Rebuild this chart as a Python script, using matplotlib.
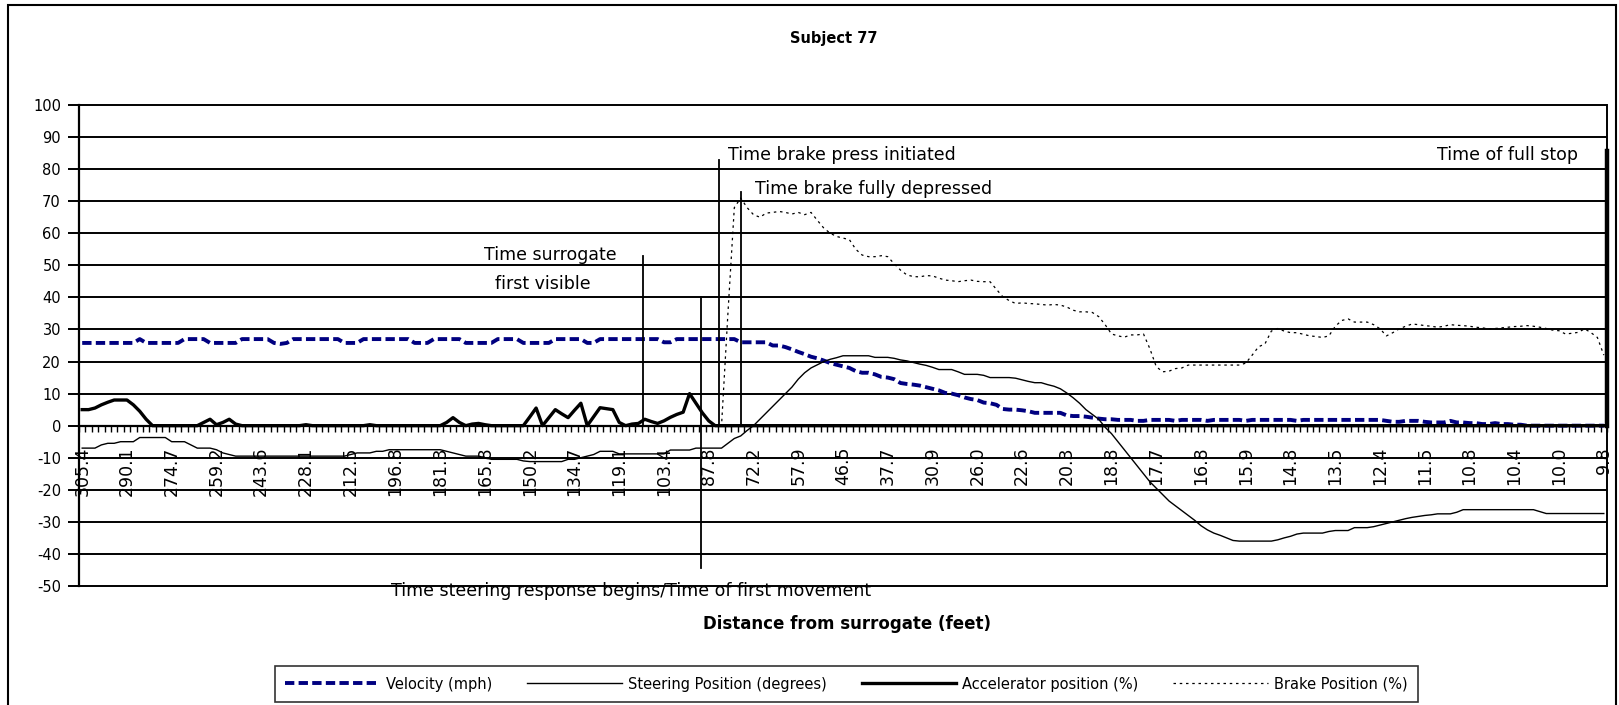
import matplotlib
matplotlib.use("Agg")
import matplotlib.pyplot as plt
import numpy as np
from matplotlib.patches import Rectangle
from matplotlib.ticker import FixedLocator, NullFormatter

plt.rcParams["font.family"] = ["DejaVu Sans"]

# ---------------- data ----------------
velocity = [
    25.8, 25.8, 25.8, 25.8, 25.8, 25.8, 25.8, 25.8, 25.8, 27.0,
    25.8, 25.8, 25.8, 25.8, 25.8, 25.8, 27.0, 27.0, 27.0, 27.0,
    25.8, 25.8, 25.8, 25.8, 25.8, 27.0, 27.0, 27.0, 27.0, 27.0,
    25.8, 25.5, 25.8, 27.0, 27.0, 27.0, 27.0, 27.0, 27.0, 27.0,
    27.0, 25.8, 25.8, 25.8, 27.0, 27.0, 27.0, 27.0, 27.0, 27.0,
    27.0, 27.0, 25.8, 25.8, 25.8, 27.0, 27.0, 27.0, 27.0, 27.0,
    25.8, 25.8, 25.8, 25.8, 25.8, 27.0, 27.0, 27.0, 27.0, 25.8,
    25.8, 25.8, 25.8, 25.8, 27.0, 27.0, 27.0, 27.0, 27.0, 25.8,
    25.8, 27.0, 27.0, 27.0, 27.0, 27.0, 27.0, 27.0, 27.0, 27.0,
    27.0, 26.0, 26.0, 27.0, 27.0, 27.0, 27.0, 27.0, 27.0, 27.0,
    27.0, 27.0, 27.0, 26.0, 26.0, 26.0, 26.0, 26.0, 25.0, 25.0,
    24.5, 23.8, 23.0, 22.3, 21.5, 21.0, 20.3, 19.5, 19.0, 18.5,
    18.0, 17.0, 16.5, 16.5, 16.0, 15.2, 15.0, 14.5, 13.3, 13.0,
    12.8, 12.5, 12.0, 11.5, 11.0, 10.2, 10.0, 9.5, 8.8, 8.3,
    8.0, 7.2, 7.0, 6.5, 5.2, 5.0, 5.0, 4.8, 4.5, 4.0,
    4.0, 4.0, 4.0, 4.0, 3.2, 3.0, 3.0, 2.8, 2.5, 2.2,
    2.0, 2.0, 1.8, 1.8, 1.8, 1.5, 1.5, 1.8, 1.8, 1.8,
    1.8, 1.5, 1.8, 1.8, 1.8, 1.8, 1.5, 1.8, 1.8, 1.8,
    1.8, 1.8, 1.5, 1.8, 1.8, 1.8, 1.8, 1.8, 1.8, 1.8,
    1.5, 1.8, 1.8, 1.8, 1.8, 1.8, 1.8, 1.8, 1.8, 1.8,
    1.8, 1.8, 1.8, 1.8, 1.5, 1.2, 1.2, 1.5, 1.5, 1.5,
    1.2, 1.0, 1.0, 1.0, 1.5, 1.0, 1.0, 0.8, 0.8, 0.5,
    0.5, 0.8, 0.5, 0.5, 0.3, 0.3, 0.0, 0.0, 0.0, 0.0,
    0.0, 0.0, 0.0, 0.0, 0.0, 0.0, 0.0, 0.0, 0.0,
]

steering = [
    -7.0, -7.0, -7.0, -6.0, -5.5, -5.5, -5.0, -5.0, -5.0, -3.7,
    -3.7, -3.7, -3.7, -3.7, -5.0, -5.0, -5.0, -6.0, -7.0, -7.0,
    -7.0, -7.5, -8.5, -9.0, -9.5, -9.5, -9.5, -9.5, -9.5, -9.5,
    -9.5, -9.5, -9.5, -9.5, -9.5, -9.5, -9.5, -9.5, -9.5, -9.5,
    -9.5, -9.5, -9.0, -8.5, -8.5, -8.5, -8.0, -8.0, -7.5, -7.5,
    -7.5, -7.5, -7.5, -7.5, -7.5, -7.5, -7.5, -8.0, -8.5, -9.0,
    -9.5, -9.5, -9.5, -10.0, -10.5, -10.5, -10.5, -10.5, -10.5, -11.0,
    -11.2, -11.2, -11.2, -11.2, -11.2, -11.2, -10.5, -10.5, -10.0, -9.5,
    -9.0, -8.0, -8.0, -8.0, -8.8, -8.8, -8.8, -8.8, -8.8, -8.8,
    -8.8, -8.8, -7.6, -7.6, -7.6, -7.6, -7.0, -7.0, -7.0, -7.0,
    -7.0, -5.5, -4.0, -3.2, -1.5, 0.0, 2.0, 4.0, 6.0, 8.0,
    10.0, 12.0, 14.5, 16.5, 18.0, 19.0, 20.0, 20.7, 21.2, 21.8,
    21.8, 21.8, 21.8, 21.8, 21.3, 21.3, 21.3, 21.0, 20.5, 20.2,
    19.7, 19.2, 18.8, 18.2, 17.5, 17.5, 17.5, 16.8, 16.0, 16.0,
    16.0, 15.7, 15.0, 15.0, 15.0, 15.0, 14.8, 14.3, 13.8, 13.4,
    13.4, 12.8, 12.3, 11.5, 10.2, 8.7, 7.0, 5.0, 3.5, 2.0,
    -0.5, -2.5, -5.0, -7.5, -10.0, -12.5, -15.0, -17.5, -19.5, -21.5,
    -23.5, -25.0, -26.5, -28.0, -29.5, -31.2, -32.5, -33.5, -34.2, -35.0,
    -35.8, -36.0, -36.0, -36.0, -36.0, -36.0, -36.0, -35.6, -35.0, -34.5,
    -33.8, -33.5, -33.5, -33.5, -33.5, -33.0, -32.7, -32.7, -32.7, -31.8,
    -31.8, -31.8, -31.5, -31.0, -30.5, -30.0, -29.5, -29.0, -28.6, -28.3,
    -28.0, -27.8, -27.5, -27.5, -27.5, -27.0, -26.2, -26.2, -26.2, -26.2,
    -26.2, -26.2, -26.2, -26.2, -26.2, -26.2, -26.2, -26.2, -26.8, -27.4,
    -27.4, -27.4, -27.4, -27.4, -27.4, -27.4, -27.4, -27.4, -27.4,
]

accelerator = [
    5.0, 5.0, 5.5, 6.5, 7.3, 8.0, 8.0, 8.0, 6.5, 4.5,
    2.0, 0.0, 0.0, 0.0, 0.0, 0.0, 0.0, 0.0, 0.0, 1.0,
    2.0, 0.3, 1.0, 2.0, 0.5, 0.0, 0.0, 0.0, 0.0, 0.0,
    0.0, 0.0, 0.0, 0.0, 0.0, 0.3, 0.0, 0.0, 0.0, 0.0,
    0.0, 0.0, 0.0, 0.0, 0.0, 0.3, 0.0, 0.0, 0.0, 0.0,
    0.0, 0.0, 0.0, 0.0, 0.0, 0.0, 0.0, 1.0, 2.5, 1.0,
    0.0, 0.5, 0.7, 0.3, 0.0, 0.0, 0.0, 0.0, 0.0, 0.0,
    2.7, 5.5, 0.0, 2.5, 5.0, 3.7, 2.5, 4.8, 7.0, 0.0,
    2.8, 5.6, 5.3, 5.0, 1.0, 0.0, 0.5, 0.7, 2.0, 1.3,
    0.7, 1.5, 2.6, 3.5, 4.2, 10.0, 7.0, 4.0, 1.5, 0.0,
] + [0.0] * 139

brake = [0.0] * 101 + [
    35.0, 68.0, 71.0, 68.0, 65.8, 65.0, 66.3, 66.5, 66.8, 66.5,
    66.0, 66.5, 65.8, 66.5, 64.0, 61.6, 60.0, 59.0, 58.5, 58.0,
    55.0, 53.2, 52.7, 52.7, 53.0, 52.7, 50.5, 48.5, 47.0, 46.5,
    46.4, 46.8, 46.7, 46.0, 45.4, 45.2, 44.9, 45.2, 45.4, 45.0,
    44.9, 44.9, 42.5, 40.2, 39.0, 38.1, 38.3, 38.1, 38.0, 37.8,
    37.6, 37.8, 37.6, 37.0, 36.0, 35.5, 35.5, 35.3, 34.0, 31.5,
    28.6, 28.0, 27.6, 28.3, 28.3, 28.6, 24.0, 18.4, 16.8, 17.0,
    17.8, 18.0, 18.9, 18.9, 18.9, 18.9, 18.9, 18.9, 18.9, 18.9,
    18.9, 19.5, 22.0, 24.6, 25.5, 29.5, 30.3, 29.5, 29.0, 29.0,
    28.5, 28.0, 27.8, 27.5, 28.0, 31.0, 32.8, 33.3, 32.3, 32.3,
    32.3, 31.5, 30.2, 28.0, 29.0, 30.2, 31.0, 31.7, 31.5, 31.2,
    31.0, 30.7, 31.0, 31.5, 31.3, 31.2, 31.0, 30.7, 30.5, 30.2,
    30.3, 30.5, 30.7, 30.9, 31.0, 31.2, 31.0, 30.7, 30.3, 29.8,
    29.6, 28.6, 28.8, 29.1, 30.2, 29.0, 27.5, 22.0,
]

tick_labels = [
    "305.4", "290.1", "274.7", "259.2", "243.6", "228.1", "212.5", "196.8",
    "181.3", "165.8", "150.2", "134.7", "119.1", "103.4", "87.8", "72.2",
    "57.9", "46.5", "37.7", "30.9", "26.0", "22.6", "20.3", "18.8", "17.7",
    "16.8", "15.9", "14.8", "13.5", "12.4", "11.5", "10.8", "10.4", "10.0",
    "9.8",
]
label_step = 7
y_ticks = list(range(-50, 101, 10))

series_names = [
    "Velocity (mph)",
    "Steering Position (degrees)",
    "Accelerator position (%)",
    "Brake Position (%)",
]

# ---------------- figure ----------------
W, H = 1619, 705
fig = plt.figure(figsize=(W / 100, H / 100), dpi=100)
L, R, T, B = 79, 1607, 105, 586
ax = fig.add_axes([L / W, 1 - B / H, (R - L) / W, (B - T) / H])

n = len(velocity)
x = np.arange(n)
ax.set_xlim(-0.5, n - 0.5)
ax.set_ylim(-50, 100)

# gridlines / borders
ax.hlines(y_ticks, -0.5, n - 0.5, colors="black", lw=1.4, clip_on=False, zorder=1)
ax.spines["top"].set_visible(False)
ax.spines["left"].set_linewidth(1.6)
ax.spines["right"].set_linewidth(1.4)
ax.spines["bottom"].set_position(("data", 0))
ax.spines["bottom"].set_linewidth(1.6)
ax.spines["bottom"].set_zorder(2)

# y axis
ax.set_yticks(y_ticks)
ax.set_yticklabels([str(v) for v in y_ticks])
ax.tick_params(axis="y", direction="out", length=8, width=1.4, labelsize=10.5, pad=5)

# x axis (category)
major = list(range(0, n, label_step))
ax.xaxis.set_major_locator(FixedLocator(major))
ax.set_xticklabels(tick_labels)
ax.xaxis.set_minor_locator(FixedLocator(np.arange(-0.5, n, 1.0)))
ax.xaxis.set_minor_formatter(NullFormatter())
ax.tick_params(axis="x", which="major", length=0, pad=15, labelsize=12.5, labelrotation=90)
ax.tick_params(axis="x", which="minor", direction="out", length=4, width=1.0)

# series
l_vel, = ax.plot(x, velocity, color="#000080", lw=2.8, ls=(0, (2.4, 1.1)),
                 dash_capstyle="butt", zorder=3)
l_ste, = ax.plot(x, steering, color="black", lw=1.0, zorder=3)
l_acc, = ax.plot(x, accelerator, color="black", lw=2.4, zorder=4, clip_on=False)
l_brk, = ax.plot(x, brake, color="black", lw=0.9, ls=(0, (2, 3)), zorder=4)

# event markers
ev_kw = dict(color="black", lw=1.3, zorder=6, clip_on=False)
ax.plot([87.7, 87.7], [0, 53], **ev_kw)
ax.plot([96.8, 96.8], [-44.5, 40], **ev_kw)
ax.plot([99.6, 99.6], [0, 82.7], **ev_kw)
ax.plot([103.1, 103.1], [0, 73], **ev_kw)
ax.plot([n - 0.55, n - 0.55], [0, 85.5], color="black", lw=3.2, zorder=6, clip_on=False)

tk = dict(fontsize=12.5, color="black", zorder=7)
ax.text(73.2, 53.2, "Time surrogate", ha="center", va="center", **tk)
ax.text(72.0, 44.2, "first visible", ha="center", va="center", **tk)
ax.text(101.0, 84.4, "Time brake press initiated", ha="left", va="center", **tk)
ax.text(105.3, 73.8, "Time brake fully depressed", ha="left", va="center", **tk)
ax.text(233.9, 84.4, "Time of full stop", ha="right", va="center", **tk)
ax.text(85.9, -51.7, "Time steering response begins/Time of first movement",
        ha="center", va="center", clip_on=False, **tk)

# titles
fig.text(834 / W, 1 - 39 / H, "Subject 77", ha="center", va="center",
         fontsize=10.5, fontweight="bold")
fig.text(847 / W, 1 - 624 / H, "Distance from surrogate (feet)", ha="center",
         va="center", fontsize=12, fontweight="bold")

# legend
leg = fig.legend([l_vel, l_ste, l_acc, l_brk], series_names, loc="center",
                 bbox_to_anchor=(846.5 / W, 1 - 684 / H), ncol=4, frameon=True,
                 fancybox=False, edgecolor="black", fontsize=10.5, handlelength=6.5,
                 handletextpad=0.4, columnspacing=2.4, borderpad=0.7)
leg.get_frame().set_linewidth(1.2)

# outer chart frame
fig.add_artist(Rectangle((8 / W, -0.02), (1616 - 8) / W, 1 - 5 / H + 0.02,
                         transform=fig.transFigure, fill=False, lw=1.5,
                         edgecolor="black"))

fig.savefig("out.png", dpi=100)
